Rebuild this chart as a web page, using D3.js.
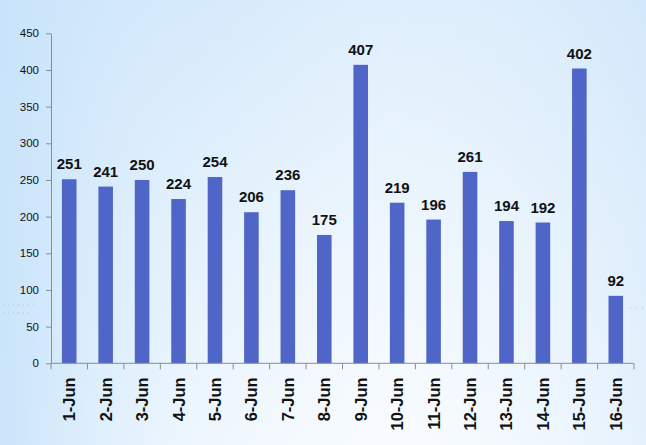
<!DOCTYPE html>
<html>
<head>
<meta charset="utf-8">
<script src="https://cdn.jsdelivr.net/npm/d3@7"></script>
<style>
body{margin:0;padding:0;overflow:hidden;}
svg{display:block;}
</style>
</head>
<body>
<script>
var width=646, height=445;
var margin={top:33.3, left:51, right:12, bottom:81.7};

var days=["1-Jun","2-Jun","3-Jun","4-Jun","5-Jun","6-Jun","7-Jun","8-Jun","9-Jun","10-Jun","11-Jun","12-Jun","13-Jun","14-Jun","15-Jun","16-Jun"];
var counts=[251,241,250,224,254,206,236,175,407,219,196,261,194,192,402,92];
var yTicks=[0,50,100,150,200,250,300,350,400,450];

var svg=d3.select("body").append("svg")
    .attr("width",width)
    .attr("height",height);

// background
var defs=svg.append("defs");
var g1=defs.append("linearGradient").attr("id","bgv").attr("x1",0).attr("y1",0).attr("x2",0).attr("y2",1);
g1.append("stop").attr("offset","0%").attr("stop-color","#d4e9fb");
g1.append("stop").attr("offset","55%").attr("stop-color","#eaf4fd");
g1.append("stop").attr("offset","100%").attr("stop-color","#f7fbff");
var g2=defs.append("linearGradient").attr("id","bgh").attr("x1",0).attr("y1",0).attr("x2",1).attr("y2",0);
g2.append("stop").attr("offset","0%").attr("stop-color","#c6e2fa").attr("stop-opacity",0.9);
g2.append("stop").attr("offset","30%").attr("stop-color","#d8ecfc").attr("stop-opacity",0.3);
g2.append("stop").attr("offset","60%").attr("stop-color","#ffffff").attr("stop-opacity",0.25);
g2.append("stop").attr("offset","100%").attr("stop-color","#d3e8fb").attr("stop-opacity",0.5);
svg.append("rect").attr("width",width).attr("height",height).attr("fill","url(#bgv)");
svg.append("rect").attr("width",width).attr("height",height).attr("fill","url(#bgh)");

// little dotted decorations
[[3,305,35],[3,313,30]].forEach(function(d){
    svg.append("line").attr("x1",d[0]).attr("x2",d[0]+d[2]).attr("y1",d[1]).attr("y2",d[1])
       .attr("stroke","#a8bfd4").attr("stroke-width",1).attr("stroke-dasharray","1,4");
});
svg.append("line").attr("x1",630).attr("x2",646).attr("y1",308).attr("y2",308)
   .attr("stroke","#a8bfd4").attr("stroke-width",1).attr("stroke-dasharray","1,5");

var x=d3.scaleBand().domain(days).range([margin.left,width-margin.right]).paddingInner(0.6).paddingOuter(0.3);
var y=d3.scaleLinear().domain([0,450]).range([height-margin.bottom,margin.top]);

// bars
svg.append("g").selectAll("rect").data(counts).enter().append("rect")
    .attr("x",function(d,i){return x(days[i]);})
    .attr("y",function(d){return y(d);})
    .attr("width",x.bandwidth())
    .attr("height",function(d){return y(0)-y(d);})
    .attr("fill","#4f66c8");

// value labels
svg.append("g").selectAll("text").data(counts).enter().append("text")
    .attr("x",function(d,i){return x(days[i])+x.bandwidth()/2;})
    .attr("y",function(d){return y(d)-10;})
    .attr("text-anchor","middle")
    .style("font-family","'Liberation Sans', Arial, sans-serif")
    .style("font-weight","bold")
    .style("font-size","15px")
    .style("fill","#111")
    .text(function(d){return d;});

// y axis
var yAxis=svg.append("g").attr("transform","translate("+margin.left+",0)")
    .call(d3.axisLeft(y).tickValues(yTicks).tickSize(5).tickPadding(7).tickSizeOuter(0));
yAxis.selectAll("path,line").attr("stroke","#8c8c8c");
yAxis.selectAll("text").style("font-family","'Liberation Sans', Arial, sans-serif").style("font-size","11.5px").style("fill","#111");

// x axis line + boundary ticks
var xg=svg.append("g");
var step=x.step();
xg.append("line").attr("x1",margin.left).attr("x2",width-margin.right)
    .attr("y1",y(0)).attr("y2",y(0)).attr("stroke","#8c8c8c");
d3.range(days.length+1).forEach(function(i){
    var xx=margin.left+i*(width-margin.right-margin.left)/days.length;
    xg.append("line").attr("x1",xx).attr("x2",xx).attr("y1",y(0)).attr("y2",y(0)+6).attr("stroke","#8c8c8c");
});
xg.selectAll("text.day").data(days).enter().append("text").attr("class","day")
    .attr("transform",function(d){return "translate("+(x(d)+x.bandwidth()/2+6)+","+(y(0)+14)+") rotate(-90)";})
    .attr("text-anchor","end")
    .style("font-family","'Liberation Sans', Arial, sans-serif")
    .style("font-weight","bold")
    .style("font-size","16.5px")
    .style("fill","#111")
    .text(function(d){return d;});
</script>
</body>
</html>
